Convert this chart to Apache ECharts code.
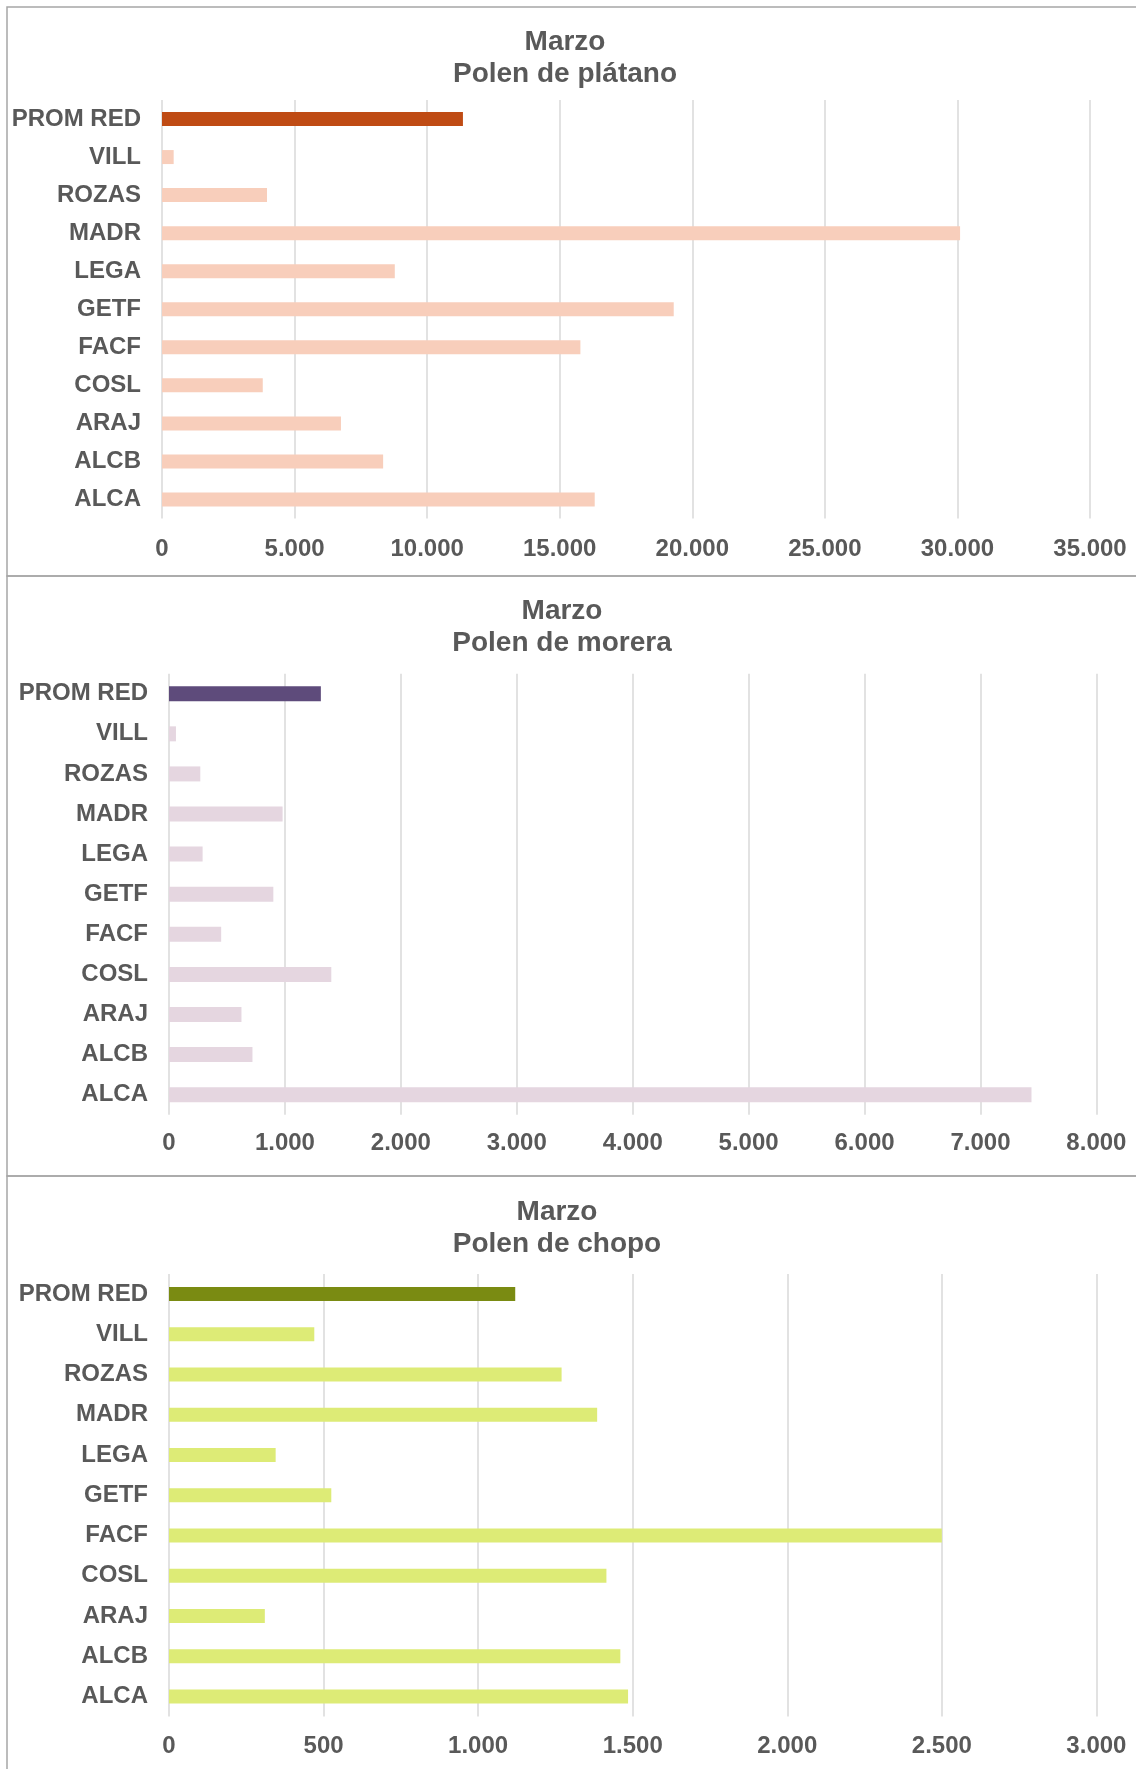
<!DOCTYPE html>
<html>
<head>
<meta charset="utf-8">
<script src="https://cdn.jsdelivr.net/npm/echarts@6/dist/echarts.min.js"></script>
<style>
html,body{margin:0;padding:0;background:#fff;}
#chart{width:1136px;height:1769px;}
</style>
</head>
<body>
<div id="chart"></div>
<script>
// ---- Data ----
const categories = ['PROM RED','VILL','ROZAS','MADR','LEGA','GETF','FACF','COSL','ARAJ','ALCB','ALCA'];
const month = 'Marzo';
const titles = ['Polen de plátano','Polen de morera','Polen de chopo'];
const platanoValues = [11350, 440, 3960, 30100, 8780, 19300, 15780, 3800, 6750, 8340, 16320];
const moreraValues  = [1310, 60, 270, 980, 290, 900, 450, 1400, 625, 720, 7440];
const chopoValues   = [1120, 470, 1270, 1385, 345, 525, 2500, 1415, 310, 1460, 1485];
const platanoTicks = [0, 5000, 10000, 15000, 20000, 25000, 30000, 35000];
const moreraTicks  = [0, 1000, 2000, 3000, 4000, 5000, 6000, 7000, 8000];
const chopoTicks   = [0, 500, 1000, 1500, 2000, 2500, 3000];

// ---- Styles ----
const FONT = '"Liberation Sans", Arial, sans-serif';
const TXT = '#595959';
const panels = [
  {values: platanoValues, ticks: platanoTicks, dark: '#BF4B14', light: '#F8CEBB',
   grid: {left: 162, top: 100, width: 928, height: 418.5}, barW: 14, margin: 19, titleX: 565, titleTop: 26, box: [7, 7, 1140, 569]},
  {values: moreraValues, ticks: moreraTicks, dark: '#5E4B7B', light: '#E5D6E0',
   grid: {left: 169, top: 673.7, width: 927.4, height: 441}, barW: 15, margin: 17, titleX: 562, titleTop: 595.5, box: [7, 576, 1140, 600]},
  {values: chopoValues, ticks: chopoTicks, dark: '#7A8B12', light: '#DDEB76',
   grid: {left: 169, top: 1274, width: 927.4, height: 442.6}, barW: 14, margin: 18, titleX: 557, titleTop: 1196, box: [7, 1176, 1140, 620]}
];

function fmt(v){ return String(v).replace(/\B(?=(\d{3})+(?!\d))/g, '.'); }

const option = {
  animation: false,
  backgroundColor: '#fff',
  textStyle: {fontFamily: FONT},
  title: panels.map((p, i) => ({
    text: month + '\n' + titles[i],
    left: p.titleX, top: p.titleTop, textAlign: 'center', padding: 0,
    textStyle: {fontFamily: FONT, fontSize: 28, fontWeight: 'bold', color: TXT, lineHeight: 32}
  })),
  graphic: panels.map(p => ({
    type: 'rect', silent: true, z: -1,
    shape: {x: p.box[0], y: p.box[1], width: p.box[2], height: p.box[3]},
    style: {fill: null, stroke: '#A6A6A6', lineWidth: 1.5}
  })),
  grid: panels.map(p => Object.assign({containLabel: false}, p.grid)),
  xAxis: panels.map((p, i) => ({
    type: 'value', gridIndex: i, min: p.ticks[0], max: p.ticks[p.ticks.length - 1],
    interval: p.ticks[1] - p.ticks[0],
    axisLine: {show: false}, axisTick: {show: false},
    splitLine: {show: true, lineStyle: {color: '#D9D9D9', width: 1.5}},
    axisLabel: {formatter: fmt, fontFamily: FONT, fontSize: 24, fontWeight: 'bold', color: TXT, margin: p.margin}
  })),
  yAxis: panels.map((p, i) => ({
    type: 'category', gridIndex: i, data: categories, inverse: true,
    axisLine: {show: false}, axisTick: {show: false}, splitLine: {show: false},
    axisLabel: {fontFamily: FONT, fontSize: 24, fontWeight: 'bold', color: TXT, margin: 21}
  })),
  series: panels.map((p, i) => ({
    type: 'bar', xAxisIndex: i, yAxisIndex: i, data: p.values, barWidth: p.barW,
    itemStyle: {color: (params) => params.dataIndex === 0 ? p.dark : p.light}
  }))
};

const chart = echarts.init(document.getElementById('chart'), null, {renderer: 'canvas'});
chart.setOption(option);
</script>
</body>
</html>
